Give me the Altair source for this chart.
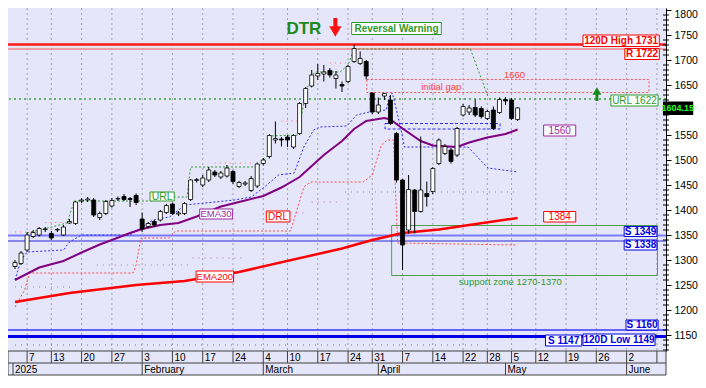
import altair as alt
import pandas as pd

FONT = "Liberation Sans"

# ---------------- candles (index 0 = 2 Jan 2025, one step per trading day) ----------------
opens = [1287, 1293, 1320, 1347, 1350, 1361, 1353, 1360, 1350, 1374,
         1373, 1418, 1420, 1420, 1385, 1393, 1408, 1422, 1427, 1423,
         1429, 1382, 1367, 1377, 1380, 1395, 1412, 1392, 1393, 1421,
         1459, 1450, 1460, 1476, 1466, 1468, 1477, 1447, 1452, 1439,
         1448, 1493, 1507, 1540, 1542, 1546, 1526, 1553, 1613, 1648,
         1668, 1672, 1679, 1663, 1651, 1657, 1697, 1693, 1697, 1634,
         1596, 1628, 1620, 1553, 1460, 1360, 1440, 1397, 1433, 1437,
         1493, 1513, 1520, 1510, 1590, 1596, 1605, 1603, 1583, 1600,
         1595, 1621, 1620, 1581]
highs = [1300, 1318, 1356, 1360, 1366, 1366, 1358, 1364, 1370, 1382,
         1418, 1424, 1426, 1424, 1397, 1420, 1424, 1427, 1432, 1426,
         1433, 1395, 1376, 1380, 1400, 1412, 1415, 1398, 1416, 1462,
         1464, 1470, 1486, 1480, 1478, 1490, 1480, 1458, 1458, 1468,
         1495, 1504, 1552, 1577, 1546, 1550, 1552, 1616, 1646, 1680,
         1692, 1690, 1684, 1678, 1657, 1690, 1731, 1717, 1700, 1635,
         1625, 1634, 1630, 1556, 1462, 1470, 1442, 1547, 1457, 1486,
         1543, 1532, 1524, 1566, 1612, 1610, 1621, 1607, 1600, 1607,
         1625, 1626, 1624, 1606]
lows = [1282, 1290, 1316, 1344, 1347, 1356, 1340, 1356, 1348, 1372,
        1370, 1414, 1416, 1386, 1380, 1390, 1405, 1418, 1418, 1406,
        1410, 1356, 1364, 1366, 1377, 1392, 1390, 1388, 1390, 1418,
        1455, 1446, 1456, 1466, 1462, 1465, 1452, 1444, 1448, 1436,
        1444, 1489, 1503, 1533, 1527, 1526, 1522, 1550, 1604, 1645,
        1660, 1657, 1665, 1643, 1636, 1654, 1694, 1690, 1661, 1592,
        1592, 1620, 1570, 1455, 1280, 1353, 1353, 1395, 1407, 1432,
        1490, 1510, 1493, 1506, 1587, 1590, 1586, 1583, 1580, 1560,
        1592, 1610, 1580, 1578]
closes = [1295, 1314, 1350, 1355, 1363, 1362, 1344, 1361, 1366, 1377,
          1416, 1420, 1422, 1390, 1393, 1417, 1419, 1423, 1421, 1421,
          1415, 1362, 1373, 1370, 1397, 1409, 1393, 1394, 1413, 1460,
          1461, 1464, 1480, 1470, 1474, 1484, 1457, 1455, 1454, 1463,
          1492, 1500, 1549, 1543, 1540, 1540, 1549, 1613, 1643, 1670,
          1673, 1676, 1670, 1670, 1648, 1687, 1723, 1703, 1668, 1596,
          1610, 1633, 1573, 1460, 1330, 1441, 1397, 1440, 1427, 1483,
          1540, 1527, 1497, 1563, 1607, 1604, 1590, 1587, 1597, 1563,
          1621, 1618, 1583, 1604.15]

# ---------------- indicator lines (index, value) ----------------
ema30_i = [0, 4, 8, 11, 14, 16, 19, 21, 24, 27, 30, 34, 37, 41, 44, 47, 49, 51, 54, 56,
           58, 61, 62, 64, 67, 69, 73, 75, 78, 81, 83]
ema30_v = [1260, 1285, 1298, 1315, 1331, 1340, 1354, 1362, 1370, 1374, 1387, 1407, 1416,
           1428, 1445, 1466, 1488, 1510, 1538, 1562, 1578, 1584, 1581, 1563, 1538, 1529,
           1526, 1535, 1545, 1552, 1561]
ema200_i = [0, 9, 20, 28, 37, 54, 59, 64, 70, 75, 83]
ema200_v = [1216, 1234, 1250, 1258, 1276, 1323, 1340, 1354, 1361, 1370, 1384]
blue_i = [0, 1, 2, 8, 9, 11, 19, 20.7, 22.8, 25.5, 28.1, 36.3, 39, 41.2, 43.5, 46.1, 47.7,
          49.3, 50.4, 54.8, 56.4, 58.5, 61.3, 61.8, 62.3, 63, 64, 64.3, 74.8, 78.1, 83]
blue_v = [1260, 1300, 1316, 1320, 1336, 1350, 1350, 1364, 1380, 1386, 1410, 1420, 1426,
          1446, 1470, 1474, 1526, 1560, 1566, 1568, 1590, 1596, 1600, 1626, 1634, 1600,
          1546, 1526, 1526, 1484, 1476]
drl_i = [0, 1.6, 2.4, 19.5, 20, 20.8, 25.5, 26.5, 45.5, 47.7, 48.8, 57.5, 59, 60.5, 61.5,
         62.5, 63.2, 83]
drl_v = [1206, 1240, 1274, 1274, 1290, 1344, 1344, 1358, 1358, 1446, 1456, 1456, 1470,
         1530, 1540, 1540, 1334, 1330]
url_i = [2, 5.4, 8.6, 9.8, 22.3, 26.3, 28.4, 29, 40.1, 41.8, 42, 46.7, 47.7, 47.8, 48.8,
         48.9, 49.8, 53.7, 55, 56, 75.2, 78.2]
url_v = [1354, 1364, 1374, 1418, 1418, 1426, 1426, 1486, 1486, 1510, 1548, 1550, 1613,
         1643, 1650, 1670, 1676, 1676, 1690, 1722, 1722, 1624]
mauve_seg = [0, 0, 1, 1, 2, 2, 3, 3, 4, 4, 5, 5]
mauve_i = [0, 9.3, 13.5, 28.8, 29.3, 37.4, 45.5, 48, 49, 54, 54.5, 83]
mauve_v = [1246, 1246, 1290, 1290, 1304, 1304, 1394, 1394, 1416, 1416, 1436, 1436]
rtop_seg = [0, 0, 1, 1, 2, 2, 3, 3, 4, 4]
rtop_i = [0, 3, 5, 9, 33, 39, 44, 47, 52, 55]
rtop_v = [1356, 1356, 1375, 1375, 1494, 1494, 1578, 1578, 1694, 1694]
low_dots_i = [0, 77]
low_dots_v = [1130, 1130]

# ---------------- levels ----------------
level_v = [1731, 1722, 1349, 1338, 1160, 1147]
level_c = ["#ff1a1a", "#f08a8a", "#7a7aff", "#2a2ad8", "#3a3aff", "#0000e6"]
level_w = [2.5, 1.5, 2, 1, 1.5, 3]
url_level = 1622

# ---------------- axis ticks ----------------
week_idx = [2, 6, 11, 16, 21, 26, 31, 36, 41, 45, 50, 55, 59, 64, 69, 74, 78, 82, 86,
            91, 96, 101, 106]
week_lbl = ["7", "13", "20", "27", "3", "10", "17", "24", "4", "10", "17", "24", "31",
            "7", "14", "22", "28", "5", "12", "19", "26", "2", ""]
month_idx = [-0.33, 21, 41, 60, 81, 101]
month_lbl = ["2025", "February", "March", "April", "May", "June"]
major_vals = list(range(1150, 1801, 50))
minor_vals = [v for v in range(1120, 1801, 10) if v % 50 != 0]
hidden_label = 1600  # covered by the last-price tag
top_label = 1800

# ---------------- annotation boxes ----------------
RED, GREEN, BLUE, PURPLE = "#ff0000", "#2e9a2e", "#0000dd", "#9a2a9a"
box_txt = ["120D High 1731", "R 1722", "URL 1622", "1560", "1384", "S 1349", "S 1338",
           "S 1160", "120D Low 1149", "S 1147", "EMA30", "EMA200", "DRL", "URL",
           "Reversal Warning"]
box_x1 = [93.8, 100.7, 98.4, 87.3, 87.3, 100.6, 100.6, 100.9, 93.8, 87.6, 30.5, 29.9,
          41.5, 22.3, 55.6]
box_x2 = [106.4, 106.4, 106.2, 92.6, 92.6, 106.0, 106.0, 106.2, 105.7, 93.6, 35.9, 36.1,
          45.4, 26.3, 70.4]
box_y1 = [1750, 1723, 1630, 1570, 1397, 1367, 1340, 1180, 1152, 1150, 1402, 1278, 1398,
          1436, 1775]
box_y2 = [1727, 1701, 1608, 1548, 1376, 1347, 1320, 1160, 1129, 1128, 1382, 1256, 1376,
          1418, 1751]
box_col = [RED, RED, GREEN, PURPLE, RED, BLUE, BLUE, BLUE, BLUE, BLUE, PURPLE, RED, RED,
           GREEN, GREEN]
box_bold = [1, 1, 0, 0, 0, 1, 1, 1, 1, 1, 0, 0, 0, 0, 1]
box_fs = [10, 10, 10, 10, 10, 10, 10, 10, 10, 10, 9.5, 9.5, 10, 10.5, 10]

free_txt = ["DTR", "initial gap", "1660"]
free_i = [47.7, 70.4, 82.5]
free_v = [1763, 1646, 1670]
free_col = ["#1a8a1a", "#ff4040", "#ff4040"]
free_fs = [17, 9.5, 9.5]
free_w = ["bold", "normal", "normal"]

# arrows: shaft from v1 to v2, head at vh
arrow_i = [52.9, 96.1]
arrow_v1 = [1784, 1618]
arrow_v2 = [1762, 1634]
arrow_vh = [1757, 1638]
arrow_shape = ["triangle-down", "triangle-up"]
arrow_col = ["#ff1010", "#1a8a1a"]
arrow_size = [150, 80]
arrow_w = [4, 3]

# ---------------- build ----------------
W, H = 658, 343
xs = alt.Scale(domain=[-0.33, 106.68], nice=False, zero=False)
ys = alt.Scale(domain=[1118, 1804], nice=False, zero=False)
yax = alt.Axis(orient="right", values=major_vals, title="", format="d",
               labelExpr=f"datum.value == {hidden_label} ? '' : datum.label",
               labelOffset={"condition": {"test": f"datum.value == {top_label}", "value": 4},
                            "value": 0},
               labelFont=FONT, labelFontSize=10.5, labelColor="black", tickColor="black",
               tickSize=5, domainColor="black", labelPadding=3, grid=False,
               labelFlush=False, labelOverlap=False)


def X(f="i"):
    return alt.X(f"{f}:Q", scale=xs, axis=None)


def Y(f="v"):
    return alt.Y(f"{f}:Q", scale=ys, axis=yax)


def line_df(ii, vv, seg=None):
    d = pd.DataFrame({"i": ii, "v": vv, "k": list(range(len(ii)))})
    d["seg"] = seg if seg is not None else 0
    return d


candles = pd.DataFrame({"i": list(range(len(opens))), "open": opens, "high": highs,
                        "low": lows, "close": closes})
candles["dir"] = ["up" if c >= o else "down" for o, c in zip(opens, closes)]

weeks = pd.DataFrame({"i": week_idx, "label": week_lbl})
months = pd.DataFrame({"i": month_idx, "label": month_lbl})
one = pd.DataFrame({"a": [0]})

layers = []
cbase = alt.Chart(candles)
wicks = cbase.mark_rule(color="black", strokeWidth=1).encode(
    x=X(), y=alt.Y("low:Q", scale=ys, axis=yax), y2="high:Q")
bodies = cbase.mark_bar(size=4, stroke="black", strokeWidth=0.8).encode(
    x=X(), y=Y("open"), y2="close:Q",
    fill=alt.Fill("dir:N", scale=alt.Scale(domain=["up", "down"], range=["white", "black"]),
                  legend=None))

# vertical dotted grid
layers.append(alt.Chart(weeks).mark_rule(color="#a0a0b0", strokeDash=[2, 3], strokeWidth=1)
              .encode(x=X()))
# zones
zone = pd.DataFrame({"x1": [62.2], "x2": [106.1], "y1": [1369], "y2": [1269]})
layers.append(alt.Chart(zone).mark_rect(fill="transparent", stroke="#4ea04e", strokeWidth=1)
              .encode(x=X("x1"), x2="x2:Q", y=Y("y1"), y2="y2:Q"))
gap = pd.DataFrame({"x1": [58.1], "x2": [104.7], "y1": [1661], "y2": [1635]})
layers.append(alt.Chart(gap).mark_rect(fill="transparent", stroke="#ff5050", strokeWidth=1,
                                       strokeDash=[2, 2])
              .encode(x=X("x1"), x2="x2:Q", y=Y("y1"), y2="y2:Q"))
bbox = pd.DataFrame({"x1": [61.1], "x2": [80.1], "y1": [1573], "y2": [1562]})
layers.append(alt.Chart(bbox).mark_rect(fill="transparent", stroke="#2a2aff", strokeWidth=1,
                                        strokeDash=[3, 2])
              .encode(x=X("x1"), x2="x2:Q", y=Y("y1"), y2="y2:Q"))
# levels
lev = pd.DataFrame({"v": level_v, "c": level_c, "w": level_w})
layers.append(alt.Chart(lev).mark_rule()
              .encode(y=Y(), color=alt.Color("c:N", scale=None),
                      strokeWidth=alt.StrokeWidth("w:Q", scale=None)))
layers.append(alt.Chart(pd.DataFrame({"v": [url_level]}))
              .mark_rule(color="#3aa03a", strokeDash=[2, 3], strokeWidth=1.5).encode(y=Y()))


def add_line(df, color, width, dash=None):
    kw = dict(color=color, strokeWidth=width)
    if dash:
        kw["strokeDash"] = dash
    layers.append(alt.Chart(df).mark_line(**kw)
                  .encode(x=X(), y=Y(), order="k:Q", detail="seg:N"))


add_line(line_df(low_dots_i, low_dots_v), "#6a6acc", 1, [1, 5])
add_line(line_df(mauve_i, mauve_v, mauve_seg), "#c890c8", 1.5, [1, 5])
add_line(line_df(rtop_i, rtop_v, rtop_seg), "#ff7070", 1, [1, 4])
add_line(line_df(drl_i, drl_v), "#ff4a4a", 1, [2, 2])
add_line(line_df(blue_i, blue_v), "#2a2aff", 1, [2, 2])
add_line(line_df(url_i, url_v), "#2e9a2e", 1, [2, 2])
add_line(line_df(ema200_i, ema200_v), "#ff0000", 2.5)
add_line(line_df(ema30_i, ema30_v), "#800080", 2)

layers.append(wicks)
layers.append(bodies)

# minor ticks on right axis
layers.append(alt.Chart(pd.DataFrame({"v": minor_vals}))
              .mark_rule(color="black", strokeWidth=1)
              .encode(y=Y(), x=alt.value(W - 3), x2=alt.value(W + 3)))

# annotation boxes
boxes = pd.DataFrame({"t": box_txt, "x1": box_x1, "x2": box_x2, "y1": box_y1, "y2": box_y2,
                      "c": box_col, "b": box_bold, "fs": box_fs})
boxes["xm"] = (boxes["x1"] + boxes["x2"]) / 2
boxes["ym"] = (boxes["y1"] + boxes["y2"]) / 2
layers.append(alt.Chart(boxes).mark_rect(fill="white", strokeWidth=1)
              .encode(x=X("x1"), x2="x2:Q", y=Y("y1"), y2="y2:Q",
                      stroke=alt.Stroke("c:N", scale=None)))
for bval, weight in [(1, "bold"), (0, "normal")]:
    layers.append(alt.Chart(boxes[boxes["b"] == bval])
                  .mark_text(font=FONT, fontWeight=weight, baseline="middle", align="center")
                  .encode(x=X("xm"), y=Y("ym"), text="t:N",
                          color=alt.Color("c:N", scale=None),
                          size=alt.Size("fs:Q", scale=None)))

free = pd.DataFrame({"t": free_txt, "i": free_i, "v": free_v, "c": free_col, "fs": free_fs,
                     "w": free_w})
for weight in ["bold", "normal"]:
    layers.append(alt.Chart(free[free["w"] == weight])
                  .mark_text(font=FONT, fontWeight=weight, baseline="middle", align="center")
                  .encode(x=X(), y=Y(), text="t:N", color=alt.Color("c:N", scale=None),
                          size=alt.Size("fs:Q", scale=None)))
layers.append(alt.Chart(pd.DataFrame({"t": ["support zone 1270-1370"], "i": [73.3],
                                      "v": [1256]}))
              .mark_text(font=FONT, fontSize=9.5, color="#2e9a2e", align="left",
                         baseline="middle")
              .encode(x=X(), y=Y(), text="t:N"))

# arrows
arrows = pd.DataFrame({"i": arrow_i, "v1": arrow_v1, "v2": arrow_v2, "vh": arrow_vh,
                       "shape": arrow_shape, "c": arrow_col, "s": arrow_size, "w": arrow_w})
layers.append(alt.Chart(arrows).mark_rule()
              .encode(x=X(), y=Y("v1"), y2="v2:Q", color=alt.Color("c:N", scale=None),
                      strokeWidth=alt.StrokeWidth("w:Q", scale=None)))
layers.append(alt.Chart(arrows).mark_point(filled=True, opacity=1, strokeWidth=0)
              .encode(x=X(), y=Y("vh"), shape=alt.Shape("shape:N", scale=None),
                      color=alt.Color("c:N", scale=None), size=alt.Size("s:Q", scale=None)))

# last price tag
tag = pd.DataFrame({"x1": [107.0], "x2": [112.0], "y1": [1617], "y2": [1590],
                    "xm": [109.45], "ym": [1603.5], "t": ["1604.15"]})
layers.append(alt.Chart(tag).mark_rect(fill="black")
              .encode(x=X("x1"), x2="x2:Q", y=Y("y1"), y2="y2:Q"))
layers.append(alt.Chart(tag).mark_text(font=FONT, fontSize=9, fontWeight="bold",
                                       color="#22ff22", baseline="middle")
              .encode(x=X("xm"), y=Y("ym"), text="t:N"))

# bottom two-row date axis
layers.append(alt.Chart(one).mark_rect(fill="#E6E6FA", stroke="#404040", strokeWidth=1)
              .encode(x=alt.value(0), x2=alt.value(W), y=alt.value(H), y2=alt.value(H + 24)))
layers.append(alt.Chart(one).mark_rule(color="#404040", strokeWidth=1)
              .encode(x=alt.value(0), x2=alt.value(W), y=alt.value(H + 12)))
layers.append(alt.Chart(weeks).mark_rule(color="#404040", strokeWidth=1)
              .encode(x=X(), y=alt.value(H), y2=alt.value(H + 12)))
layers.append(alt.Chart(weeks).mark_text(font=FONT, fontSize=10, align="left",
                                         baseline="middle", dx=2, color="black")
              .encode(x=X(), y=alt.value(H + 6.5), text="label:N"))
layers.append(alt.Chart(months).mark_rule(color="#404040", strokeWidth=1)
              .encode(x=X(), y=alt.value(H + 12), y2=alt.value(H + 24)))
layers.append(alt.Chart(months).mark_text(font=FONT, fontSize=10, align="left",
                                          baseline="middle", dx=2, color="black")
              .encode(x=X(), y=alt.value(H + 18.5), text="label:N"))

chart = (alt.layer(*layers)
         .properties(width=W, height=H,
                     autosize=alt.AutoSizeParams(type="none"),
                     padding={"left": 0, "top": 0, "right": 32, "bottom": 26})
         .configure_view(fill="#E6E6FA", strokeWidth=0))

chart.save("out.html", embed_options={"renderer": "svg", "actions": False})
